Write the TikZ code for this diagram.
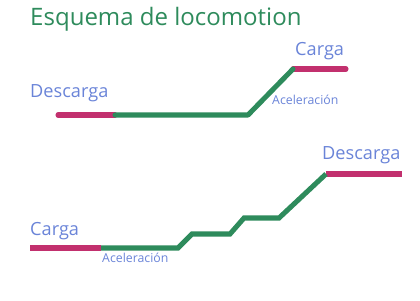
\documentclass[tikz,border=0pt]{standalone}
\usepackage{fontspec}
\setmainfont{Open Sans}
\usepackage{xcolor}
\usetikzlibrary{positioning}

\definecolor{trackgreen}{HTML}{2E8B5C}
\definecolor{loadpink}{HTML}{C2306E}
\definecolor{labelblue}{HTML}{6A84D8}

\begin{document}
\begin{tikzpicture}[
  x=0.03cm, y=-0.03cm,
  title/.style={anchor=west, inner sep=0pt, text=trackgreen, font=\fontsize{20.5}{24}\selectfont},
  stationlbl/.style={anchor=west, inner sep=0pt, text=labelblue, font=\fontsize{15.5}{18}\selectfont},
  acclbl/.style={anchor=west, inner sep=0pt, text=labelblue, font=\fontsize{10.5}{12}\selectfont},
  load/.style={draw=loadpink, line width=4.3pt},
  move/.style={draw=trackgreen, line width=4.3pt}
]
  \useasboundingbox (0,0) rectangle (420,300);

  \node[title] (T) at (30,19) {Esquema de locomotion};

  % first scheme
  \coordinate (a1) at (58,115);
  \coordinate (a2) at (115,115);
  \coordinate (a3) at (248,115);
  \coordinate (a4) at (293,69);
  \coordinate (a5) at (346,69);

  \draw[load, line cap=round] (a1) -- (a2);
  \draw[load, line cap=round] (a4) -- (a5);
  \draw[move, line cap=round, line join=round] (a2) -- (a3) -- (a4);

  \node[stationlbl] (D1) at (30,93) {Descarga};
  \node[stationlbl] (C1) at (295,51) {Carga};
  \node[acclbl] (A1) at (272,100) {Aceleración};

  % second scheme
  \coordinate (b1) at (30,248);
  \coordinate (b2) at (101,248);
  \coordinate (b3) at (178,248);
  \coordinate (b4) at (192,234);
  \coordinate (b5) at (230,234);
  \coordinate (b6) at (244,218);
  \coordinate (b7) at (279,218);
  \coordinate (b8) at (326,174);
  \coordinate (b9) at (402,174);

  \draw[load] (b1) -- (b2);
  \draw[load] (b8) -- (b9);
  \draw[move] (b2) -- (b3) -- (b4) -- (b5) -- (b6) -- (b7) -- (b8);

  \node[stationlbl] (C2) at (30,231) {Carga};
  \node[acclbl] (A2) at (102,258) {Aceleración};
  \node[stationlbl] (D2) at (322,155) {Descarga};
\end{tikzpicture}
\end{document}
